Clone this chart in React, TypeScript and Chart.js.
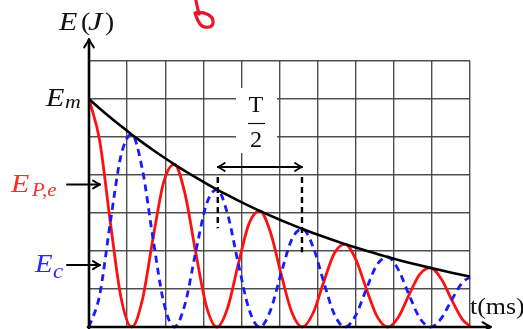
import { useEffect, useRef } from "react";
import { Chart, registerables } from "chart.js";

Chart.register(...registerables);

// Sample times (grid units along the t axis)
const TIME_MS = [
  0, 0.28, 0.56, 0.84, 1.12, 1.4, 1.68, 1.96, 2.24, 2.52, 2.8, 3.08, 3.36, 3.64,
  3.92, 4.2, 4.48, 4.76, 5.04, 5.32, 5.6, 5.88, 6.16, 6.44, 6.72, 7.0, 7.28,
  7.56, 7.84, 8.12, 8.4, 8.68, 8.96, 9.24, 9.52, 9.8, 10,
];

// Total mechanical energy (decaying envelope)
const ENERGY_TOTAL = [
  6.0, 5.752, 5.515, 5.287, 5.068, 4.859, 4.659, 4.466, 4.282, 4.105, 3.935,
  3.773, 3.617, 3.468, 3.325, 3.187, 3.056, 2.93, 2.809, 2.693, 2.581, 2.475,
  2.373, 2.275, 2.181, 2.091, 2.004, 1.922, 1.842, 1.766, 1.693, 1.623, 1.556,
  1.492, 1.43, 1.371, 1.331,
];

// Elastic potential energy E_P,e
const ENERGY_POTENTIAL = [
  6.0, 4.91, 2.757, 0.774, 0, 0.711, 2.329, 3.812, 4.282, 3.504, 1.968, 0.552,
  0, 0.508, 1.662, 2.721, 3.056, 2.501, 1.404, 0.394, 0, 0.362, 1.186, 1.942,
  2.181, 1.785, 1.002, 0.281, 0, 0.259, 0.846, 1.385, 1.556, 1.274, 0.715,
  0.201, 0.02,
];

// Kinetic energy E_c
const ENERGY_KINETIC = [
  0, 0.842, 2.758, 4.513, 5.068, 4.148, 2.33, 0.654, 0, 0.601, 1.967, 3.221,
  3.617, 2.96, 1.663, 0.466, 0, 0.429, 1.405, 2.299, 2.581, 2.113, 1.187, 0.333,
  0, 0.306, 1.002, 1.641, 1.842, 1.507, 0.847, 0.238, 0, 0.218, 0.715, 1.17,
  1.314,
];

// Annotation levels / times
const EM_LEVEL = 6;
const EP_MARK_LEVEL = 3.75;
const EC_MARK_LEVEL = 1.63;
const HALF_PERIOD_START = 3.38;
const HALF_PERIOD_END = 5.59;
const HALF_PERIOD_ARROW_LEVEL = 4.21;
const DASH_TOP_LEVEL = 3.95;
const DASH_LEFT_BOTTOM = 2.6;
const DASH_RIGHT_BOTTOM = 1.97;

const RED = "#ff1010";
const BLUE = "#1a1aff";
const GRID = "rgba(60,60,60,0.9)";

const toXY = (ys: number[]) => ys.map((y, i) => ({ x: TIME_MS[i], y }));

function chevron(
  ctx: CanvasRenderingContext2D,
  tx: number,
  ty: number,
  dir: "up" | "right" | "left",
  size = 6
) {
  ctx.beginPath();
  if (dir === "up") {
    ctx.moveTo(tx - size * 0.8, ty + size * 1.4);
    ctx.quadraticCurveTo(tx - size * 0.2, ty + size * 0.5, tx, ty);
    ctx.quadraticCurveTo(tx + size * 0.2, ty + size * 0.5, tx + size * 0.8, ty + size * 1.4);
  } else if (dir === "right") {
    ctx.moveTo(tx - size * 1.4, ty - size * 0.8);
    ctx.quadraticCurveTo(tx - size * 0.5, ty - size * 0.2, tx, ty);
    ctx.quadraticCurveTo(tx - size * 0.5, ty + size * 0.2, tx - size * 1.4, ty + size * 0.8);
  } else {
    ctx.moveTo(tx + size * 1.4, ty - size * 0.8);
    ctx.quadraticCurveTo(tx + size * 0.5, ty - size * 0.2, tx, ty);
    ctx.quadraticCurveTo(tx + size * 0.5, ty + size * 0.2, tx + size * 1.4, ty + size * 0.8);
  }
  ctx.stroke();
}

const SERIF = '"Liberation Serif", "DejaVu Serif", serif';

// draw a string with an optional horizontal stretch
function txt(
  ctx: CanvasRenderingContext2D,
  s: string,
  x: number,
  y: number,
  font: string,
  sx = 1
) {
  ctx.save();
  ctx.font = font;
  ctx.translate(x, y);
  ctx.scale(sx, 1);
  ctx.fillText(s, 0, 0);
  ctx.restore();
}

const backdropPlugin = {
  id: "halfPeriodBackdrop",
  beforeDatasetsDraw(chart: Chart) {
    const ctx = chart.ctx;
    ctx.save();
    ctx.fillStyle = "#ffffff";
    ctx.fillRect(236, 88, 41, 65);
    ctx.restore();
  },
};

const annotationPlugin = {
  id: "energyAnnotations",
  afterDraw(chart: Chart) {
    const ctx = chart.ctx;
    const xs = chart.scales.x;
    const ys = chart.scales.y;
    const px = (v: number) => xs.getPixelForValue(v);
    const py = (v: number) => ys.getPixelForValue(v);
    const x0 = px(0);
    const y0 = py(0);

    ctx.save();
    ctx.lineCap = "round";
    ctx.lineJoin = "round";

    // axes with arrow tips
    ctx.strokeStyle = "#000";
    ctx.lineWidth = 2.6;
    ctx.beginPath();
    ctx.moveTo(x0, y0 + 1);
    ctx.lineTo(x0, 40);
    ctx.stroke();
    ctx.beginPath();
    ctx.moveTo(x0 - 1, y0);
    ctx.lineTo(490, y0);
    ctx.stroke();
    ctx.lineWidth = 2;
    chevron(ctx, x0, 39, "up", 6);
    chevron(ctx, 491, y0, "right", 6);

    // marker arrows for E_P,e and E_c
    ctx.lineWidth = 2;
    const markY1 = py(EP_MARK_LEVEL);
    const markY2 = py(EC_MARK_LEVEL);
    for (const my of [markY1, markY2]) {
      ctx.beginPath();
      ctx.moveTo(67, my);
      ctx.lineTo(100, my);
      ctx.stroke();
      chevron(ctx, 100, my, "right", 5);
    }

    // T/2 double arrow
    const ax1 = px(HALF_PERIOD_START);
    const ax2 = px(HALF_PERIOD_END);
    const ay = py(HALF_PERIOD_ARROW_LEVEL);
    ctx.lineWidth = 1.8;
    ctx.beginPath();
    ctx.moveTo(ax1, ay);
    ctx.lineTo(ax2, ay);
    ctx.stroke();
    chevron(ctx, ax1, ay, "left", 5);
    chevron(ctx, ax2, ay, "right", 5);

    // dashed guides
    ctx.lineCap = "butt";
    ctx.lineWidth = 2.4;
    ctx.setLineDash([6, 4]);
    ctx.beginPath();
    ctx.moveTo(ax1, py(DASH_TOP_LEVEL));
    ctx.lineTo(ax1, py(DASH_LEFT_BOTTOM));
    ctx.moveTo(ax2, py(DASH_TOP_LEVEL));
    ctx.lineTo(ax2, py(DASH_RIGHT_BOTTOM));
    ctx.stroke();
    ctx.setLineDash([]);

    // text labels
    ctx.textBaseline = "alphabetic";
    ctx.textAlign = "left";
    ctx.fillStyle = "#111";
    txt(ctx, "E", 59, 30, `italic 25px ${SERIF}`, 1.2);
    txt(ctx, "(", 81, 30, `25px ${SERIF}`, 1.1);
    txt(ctx, "J", 88, 30, `italic 25px ${SERIF}`, 1.3);
    txt(ctx, ")", 105, 30, `25px ${SERIF}`, 1.1);

    const emY = py(EM_LEVEL);
    txt(ctx, "E", 46, emY + 7, `italic 25px ${SERIF}`, 1.2);
    txt(ctx, "m", 65, emY + 9, `italic 19px ${SERIF}`, 1.15);

    ctx.fillStyle = "#ff2a2a";
    txt(ctx, "E", 11, markY1 + 7, `italic 26px ${SERIF}`, 1.15);
    txt(ctx, "P,e", 32, markY1 + 11, `italic 18px ${SERIF}`, 1.15);

    ctx.fillStyle = "#2a2aff";
    txt(ctx, "E", 35, markY2 + 7, `italic 25px ${SERIF}`, 1.15);
    txt(ctx, "c", 53, markY2 + 13, `italic 20px ${SERIF}`, 1.15);

    ctx.fillStyle = "#111";
    txt(ctx, "t(ms)", 470, 314, `24px ${SERIF}`, 1.08);

    ctx.textAlign = "center";
    txt(ctx, "T", 256, 112, `23px ${SERIF}`, 1.05);
    txt(ctx, "2", 256, 147, `23px ${SERIF}`, 1.05);
    ctx.lineWidth = 1.2;
    ctx.strokeStyle = "#111";
    ctx.beginPath();
    ctx.moveTo(248, 123.5);
    ctx.lineTo(265, 123.5);
    ctx.stroke();

    // hand-drawn mark
    ctx.strokeStyle = "#e8162a";
    ctx.lineWidth = 3.2;
    ctx.lineCap = "round";
    ctx.beginPath();
    ctx.moveTo(196, 1);
    ctx.lineTo(199, 14);
    ctx.moveTo(195, 13);
    ctx.bezierCurveTo(203, 11, 214, 15, 213, 23);
    ctx.bezierCurveTo(212, 29, 203, 28, 200, 24);
    ctx.bezierCurveTo(197, 20, 196, 16, 195, 13);
    ctx.stroke();

    ctx.restore();
  },
};

export default function App() {
  const canvasRef = useRef<HTMLCanvasElement | null>(null);

  useEffect(() => {
    const canvas = canvasRef.current;
    if (!canvas) return;
    const chart = new Chart(canvas, {
      type: "line",
      data: {
        datasets: [
          {
            label: "E",
            data: toXY(ENERGY_TOTAL),
            borderColor: "#000",
            borderWidth: 2.6,
            pointRadius: 0,
            cubicInterpolationMode: "monotone",
            clip: 4,
          },
          {
            label: "Ec",
            data: toXY(ENERGY_KINETIC),
            borderColor: BLUE,
            borderWidth: 2.8,
            borderDash: [7, 5],
            pointRadius: 0,
            cubicInterpolationMode: "monotone",
            clip: 4,
          },
          {
            label: "Ep",
            data: toXY(ENERGY_POTENTIAL),
            borderColor: RED,
            borderWidth: 2.8,
            pointRadius: 0,
            cubicInterpolationMode: "monotone",
            clip: 4,
          },
        ],
      },
      options: {
        animation: false,
        responsive: false,
        maintainAspectRatio: false,
        layout: { padding: { left: 89, right: 53, top: 61, bottom: 2 } },
        plugins: { legend: { display: false }, tooltip: { enabled: false } },
        scales: {
          x: {
            type: "linear",
            min: 0,
            max: 10,
            ticks: { display: false, stepSize: 1 },
            grid: { color: GRID, lineWidth: 1.4, drawTicks: false },
            border: { display: false },
            afterFit: (s: any) => {
              s.height = 0;
            },
          },
          y: {
            type: "linear",
            min: 0,
            max: 7,
            ticks: { display: false, stepSize: 1 },
            grid: { color: GRID, lineWidth: 1.4, drawTicks: false },
            border: { display: false },
            afterFit: (s: any) => {
              s.width = 0;
            },
          },
        },
      },
      plugins: [backdropPlugin, annotationPlugin],
    });
    return () => chart.destroy();
  }, []);

  return (
    <div style={{ position: "absolute", left: 0, top: 0, width: 523, height: 329, background: "#fff" }}>
      <canvas ref={canvasRef} width={523} height={329} style={{ display: "block" }} />
    </div>
  );
}
